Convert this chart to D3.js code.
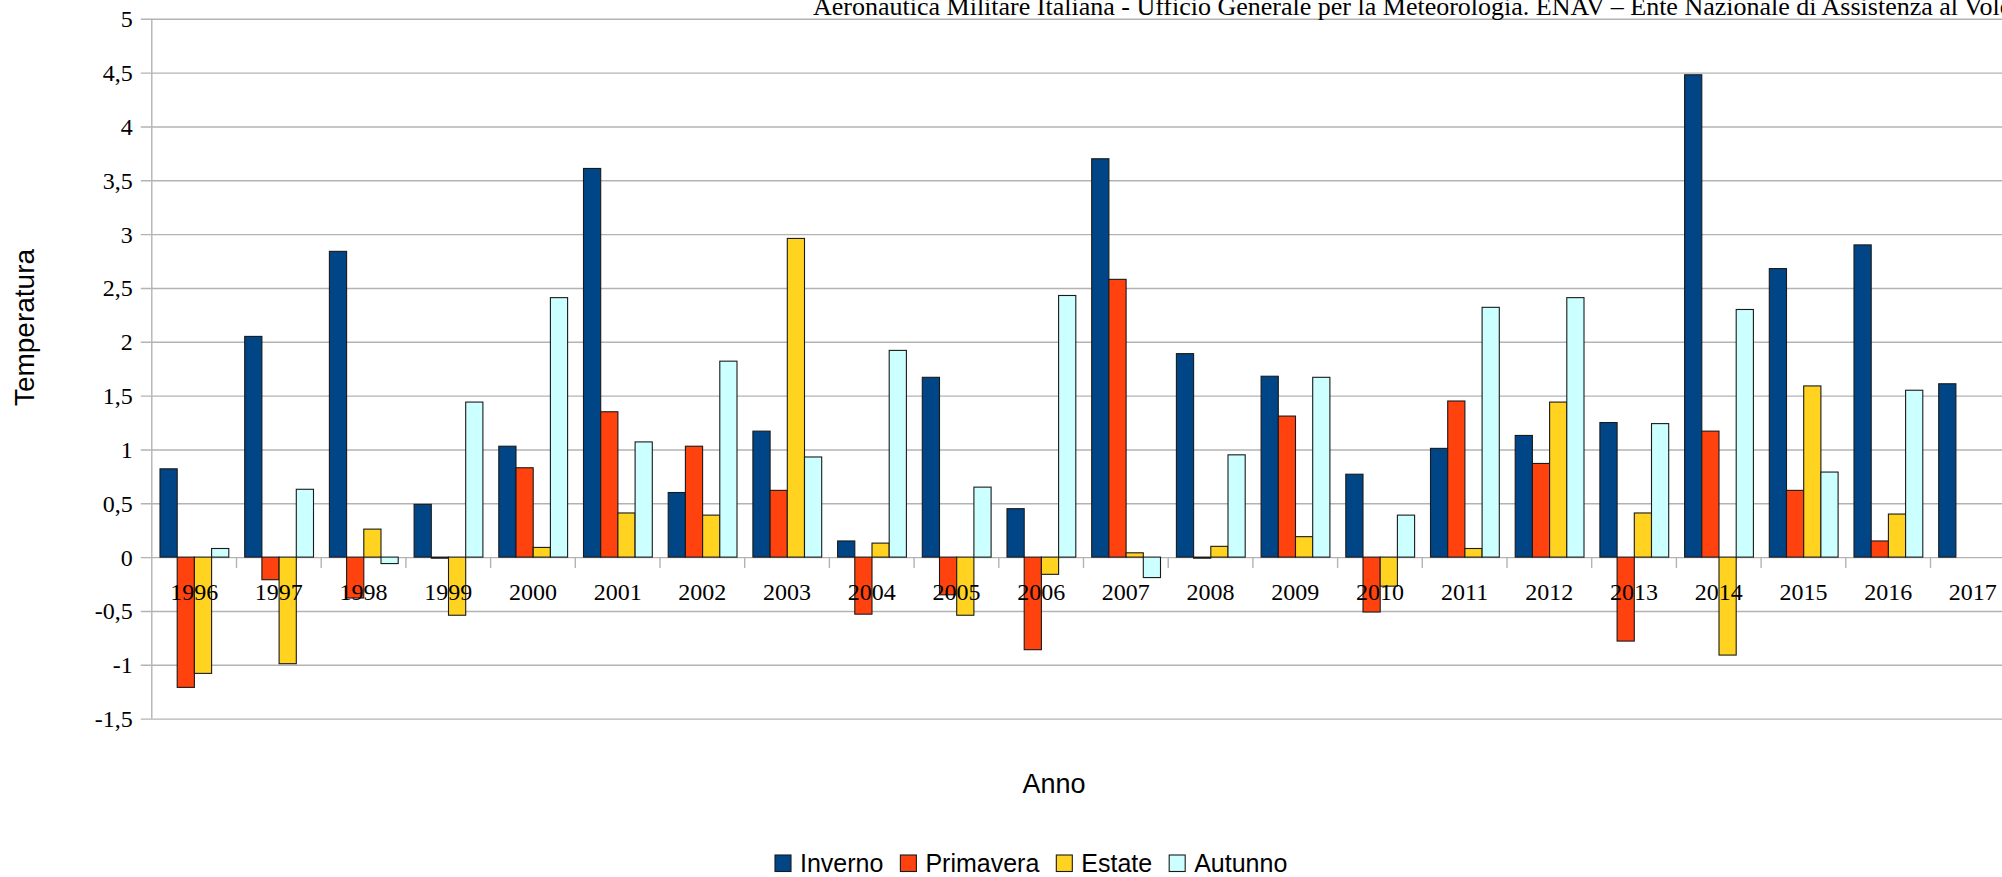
<!DOCTYPE html>
<html>
<head>
<meta charset="utf-8">
<script src="https://cdn.jsdelivr.net/npm/d3@7"></script>
<style>
  html, body { margin: 0; padding: 0; background: #fff; }
  svg { display: block; }
</style>
</head>
<body>
<svg id="chart" width="2002" height="877"></svg>
<script>
// ---- data ----
const years = ["1996","1997","1998","1999","2000","2001","2002","2003","2004","2005","2006",
               "2007","2008","2009","2010","2011","2012","2013","2014","2015","2016","2017"];
const seriesNames = ["Inverno", "Primavera", "Estate", "Autunno"];
const inverno   = [0.82, 2.05, 2.84, 0.49, 1.03, 3.61, 0.60, 1.17, 0.15, 1.67, 0.45,
                   3.70, 1.89, 1.68, 0.77, 1.01, 1.13, 1.25, 4.48, 2.68, 2.90, 1.61];
const primavera = [-1.21, -0.21, -0.38, -0.01, 0.83, 1.35, 1.03, 0.62, -0.53, -0.35, -0.86,
                   2.58, -0.01, 1.31, -0.51, 1.45, 0.87, -0.78, 1.17, 0.62, 0.15, null];
const estate    = [-1.08, -0.99, 0.26, -0.54, 0.09, 0.41, 0.39, 2.96, 0.13, -0.54, -0.16,
                   0.04, 0.10, 0.19, -0.27, 0.08, 1.44, 0.41, -0.91, 1.59, 0.40, null];
const autunno   = [0.08, 0.63, -0.06, 1.44, 2.41, 1.07, 1.82, 0.93, 1.92, 0.65, 2.43,
                   -0.19, 0.95, 1.67, 0.39, 2.32, 2.41, 1.24, 2.30, 0.79, 1.55, null];
const yTicks = [-1.5, -1, -0.5, 0, 0.5, 1, 1.5, 2, 2.5, 3, 3.5, 4, 4.5, 5];
const colors = ["#004586", "#ff420e", "#ffd320", "#ccffff"];
const titleText = "Aeronautica Militare Italiana - Ufficio Generale per la Meteorologia. ENAV \u2013 Ente Nazionale di Assistenza al Volo";
const yTitle = "Temperatura";
const xTitle = "Anno";

const seriesValues = [inverno, primavera, estate, autunno];

// ---- layout ----
const svg = d3.select("#chart");
const left = 151.8, bandW = 84.7;
const x = d3.scaleBand().domain(years).range([left, left + bandW * years.length]).padding(0);
const xs = d3.scaleBand().domain(seriesNames).range([8.2, 8.2 + 4 * 17.2]).padding(0);
const y = d3.scaleLinear().domain([-1.5, 5]).range([718.6, 18.8]);

const loc = d3.formatLocale({decimal: ",", thousands: ".", grouping: [3], currency: ["", ""], minus: "-"});
const fmt = loc.format("");

const serif = "'Liberation Serif', 'Times New Roman', serif";
const sans = "'Liberation Sans', Arial, sans-serif";

// gridlines + y axis
const yAxis = d3.axisLeft(y).tickValues(yTicks).tickFormat(v => fmt(v))
  .tickSize(-(2002 - left)).tickPadding(7);
const gy = svg.append("g").attr("transform", `translate(${left},0)`).call(yAxis);
gy.select(".domain").remove();
gy.selectAll(".tick line").attr("stroke", "#b3b3b3").attr("stroke-width", 1.4).attr("x1", -11);
gy.selectAll(".tick text").attr("font-family", serif).attr("font-size", 24)
  .attr("fill", "#000").attr("x", -19).attr("dy", "0.33em");

// y axis line
svg.append("line").attr("x1", left).attr("x2", left)
  .attr("y1", y(5)).attr("y2", y(-1.5)).attr("stroke", "#b3b3b3").attr("stroke-width", 1.4);

// x category tick marks at zero line
svg.append("g").selectAll("line").data(years.slice(1)).join("line")
  .attr("x1", d => x(d)).attr("x2", d => x(d))
  .attr("y1", y(0)).attr("y2", y(0) + 11)
  .attr("stroke", "#b3b3b3").attr("stroke-width", 1.4);

// bars
const barData = [];
years.forEach((yr, i) => {
  seriesNames.forEach((s, j) => {
    const v = seriesValues[j][i];
    if (v !== null && v !== undefined) barData.push({yr, s, v, c: colors[j]});
  });
});
svg.append("g").selectAll("rect").data(barData).join("rect")
  .attr("x", d => x(d.yr) + xs(d.s))
  .attr("width", xs.bandwidth())
  .attr("y", d => Math.min(y(d.v), y(0)))
  .attr("height", d => Math.max(0.8, Math.abs(y(d.v) - y(0))))
  .attr("fill", d => d.c)
  .attr("stroke", "#1a1a1a").attr("stroke-width", 1.1);

// x labels
svg.append("g").selectAll("text").data(years).join("text")
  .attr("x", d => x(d) + bandW / 2)
  .attr("y", y(0) + 43)
  .attr("text-anchor", "middle")
  .attr("font-family", serif).attr("font-size", 24).attr("fill", "#000")
  .text(d => d);

// title (cut off at the top and right, as in the reference)
svg.append("text").attr("x", 813).attr("y", 15)
  .attr("font-family", serif).attr("font-size", 26).attr("fill", "#000")
  .text(titleText);

// axis titles
svg.append("text").attr("transform", "translate(33.5,327.5) rotate(-90)")
  .attr("text-anchor", "middle").attr("font-family", sans).attr("font-size", 28)
  .attr("fill", "#000").text(yTitle);
svg.append("text").attr("x", 1054).attr("y", 793)
  .attr("text-anchor", "middle").attr("font-family", sans).attr("font-size", 27)
  .attr("fill", "#000").text(xTitle);

// legend
const lg = svg.append("g");
let lx = 775;
seriesNames.forEach((s, j) => {
  lg.append("rect").attr("x", lx).attr("y", 855).attr("width", 16).attr("height", 16.5)
    .attr("fill", colors[j]).attr("stroke", "#1a1a1a").attr("stroke-width", 1.1);
  const t = lg.append("text").attr("x", lx + 25).attr("y", 872)
    .attr("font-family", sans).attr("font-size", 25).attr("fill", "#000").text(s);
  lx = lx + 25 + t.node().getComputedTextLength() + 17;
});
</script>
</body>
</html>
